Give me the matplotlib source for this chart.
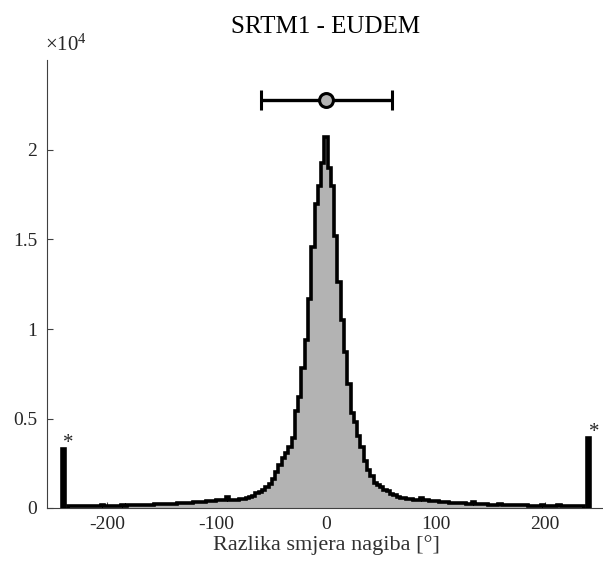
import numpy as np
import matplotlib
matplotlib.use("Agg")
import matplotlib.pyplot as plt

# ---- data ----
title = "SRTM1 - EUDEM"
xlabel = "Razlika smjera nagiba [°]"
bin_width = 3
first_center = -234

left_tail = [100, 110, 90, 100, 90, 110, 100, 110, 100, 120, 170, 110,
             120, 130, 120, 130, 140, 130, 150, 160, 150, 170, 160, 180,
             190, 180, 200, 210, 220, 210, 230, 240, 250, 260, 270, 280,
             290, 300, 310, 320, 340, 350, 370, 390, 410, 420, 440, 470]
core = [600, 440, 450, 470, 490, 520, 550, 600, 650, 840, 900, 1000,
        1150, 1350, 1600, 2000, 2400, 2800, 3100, 3400, 3900, 5400, 6200,
        7800, 9400, 11700, 14600, 17000, 18000, 19300, 20700,
        19000, 18000, 15200, 12600, 10500, 8700, 6900, 5300, 4800, 4000,
        3400, 2600, 2100, 1800, 1400, 1300, 1200, 1000, 930, 800, 700,
        620, 580, 550, 520, 480, 450, 430, 560, 450]
right_tail = [420, 400, 390, 370, 350, 340, 320, 300, 290, 280,
              270, 260, 250, 240, 330, 230, 220, 210, 200, 190,
              190, 180, 240, 170, 160, 160, 150, 150, 140, 140,
              180, 130, 130, 120, 120, 150, 110, 110, 100, 100,
              140, 100, 90, 90, 90, 100, 90, 90]
counts = np.array(left_tail + core + right_tail, dtype=float)

outlier_x = [-240, 240]
outlier_counts = [3300, 3900]

mean_diff = 0.45
std_diff = 60.05
errbar_y = 22800

yticks = [0, 5000, 10000, 15000, 20000]
yticklabels = ["0", "0.5", "1", "1.5", "2"]
xticks = [-200, -100, 0, 100, 200]
xticklabels = ["-200", "-100", "0", "100", "200"]

# ---- style ----
plt.rcParams["font.family"] = ["Liberation Serif", "DejaVu Serif"]
plt.rcParams["mathtext.fontset"] = "custom"
plt.rcParams["mathtext.rm"] = "Liberation Serif"
plt.rcParams["mathtext.it"] = "Liberation Serif:italic"
txt = "#262626"
gray = "#b3b3b3"

fig = plt.figure(figsize=(6.03, 5.62), dpi=100)
W, H = 603, 562
ax = fig.add_axes([47 / W, (H - 508) / H, 558 / W, 447.5 / H])

edges = first_center - bin_width / 2 + bin_width * np.arange(len(counts) + 1)
ax.stairs(counts, edges, fill=True, color=gray, baseline=0, zorder=2)
ax.stairs(counts, edges, color="black", lw=2.6, baseline=0, zorder=3)

ax.bar(outlier_x, outlier_counts, width=bin_width, color="black",
       edgecolor="black", lw=2.6, zorder=3)
for xo, co in zip(outlier_x, outlier_counts):
    ax.annotate("*", (xo, co), xytext=(0, -3), textcoords="offset points",
                ha="left", va="bottom", fontsize=15, color=txt)

ax.errorbar(mean_diff, errbar_y, xerr=std_diff, fmt="o", color="black",
            mfc=gray, mec="black", ms=10, mew=2.2, elinewidth=2.4,
            capsize=7.5, capthick=2.4, zorder=4)

ax.set_xlim(-255, 255)
ax.set_ylim(0, 25000)
ax.set_xticks(xticks)
ax.set_xticklabels(xticklabels)
ax.set_yticks(yticks)
ax.set_yticklabels(yticklabels)
ax.tick_params(direction="in", length=4, width=0.8, colors="#404040",
               labelcolor=txt, labelsize=14)
ax.tick_params(axis="y", pad=7)
ax.tick_params(axis="x", pad=6)
for s in ["top", "right"]:
    ax.spines[s].set_visible(False)
for s in ["left", "bottom"]:
    ax.spines[s].set_color("#404040")
    ax.spines[s].set_linewidth(0.8)

ax.set_title(title, fontsize=18, color="black", pad=20)
ax.set_xlabel(xlabel, fontsize=16, color="#303030", labelpad=1)
fig.text(45 / W, (H - 45) / H, r"$\mathregular{\times 10^{4}}$", fontsize=15,
         color=txt, ha="left", va="center")

fig.savefig("out.png", dpi=100)
